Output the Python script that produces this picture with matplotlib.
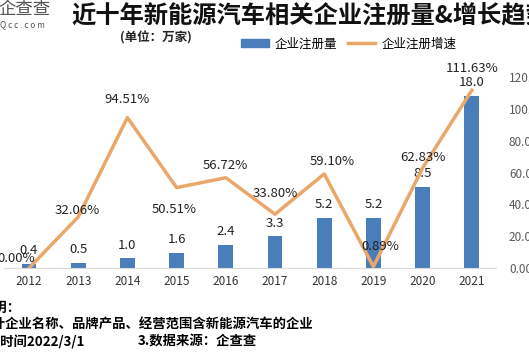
import numpy as np
import matplotlib.pyplot as plt
from matplotlib.lines import Line2D
from matplotlib.patches import Patch

plt.rcParams['font.family'] = ['Noto Sans CJK SC', 'DejaVu Sans']

# data
years = ['2012', '2013', '2014', '2015', '2016', '2017', '2018', '2019', '2020', '2021']
count = [0.4, 0.5, 1.0, 1.6, 2.4, 3.3, 5.2, 5.2, 8.5, 18.0]
growth = [0.00, 32.06, 94.51, 50.51, 56.72, 33.80, 59.10, 0.89, 62.83, 111.63]
right_ticks = [0, 20, 40, 60, 80, 100, 120]

bar_color = '#4a7ebb'
line_color = '#e9a86a'

W, H = 529, 353
fig = plt.figure(figsize=(W / 100, H / 100), dpi=100)

ax = fig.add_axes([4.4 / W, 1 - 268 / H, 492 / W, 191 / H])
x = np.arange(len(years))
ax.bar(x, count, width=0.3, color=bar_color, zorder=2)
ax.set_ylim(0, 20)
ax.set_xlim(-0.5, len(years) - 0.5)
ax.set_yticks([])
for s in ['top', 'left', 'right']:
    ax.spines[s].set_visible(False)
ax.spines['bottom'].set_color('#d9d9d9')
ax.set_xticks(x)
ax.set_xticklabels(years, fontsize=8.5, color='#333333')
ax.tick_params(axis='x', length=0, pad=5)

for i, v in enumerate(count):
    ax.annotate(f'{v:.1f}', (x[i], v), xytext=(0, 5), textcoords='offset points',
                ha='center', va='bottom', fontsize=9.5, color='#222222', zorder=5)

ax2 = ax.twinx()
ax2.plot(x, growth, color=line_color, lw=2.5, zorder=3)
ax2.set_ylim(0, 120)
ax2.set_yticks(right_ticks)
ax2.set_yticklabels([f'{t:.2f}%' for t in right_ticks], fontsize=8.5, color='#595959')
ax2.tick_params(axis='y', length=0, pad=9)
for s in ['top', 'left', 'right', 'bottom']:
    ax2.spines[s].set_visible(False)

# percentage label offsets (points)
offs = [(-9, 2), (-1, 0), (0, 8), (-2, -11), (0, 4), (0, 10), (6, 4), (5, 10), (0, 3), (0, 11)]
for i, g in enumerate(growth):
    dx, dy = offs[i]
    ax2.annotate(f'{g:.2f}%', (x[i], g), xytext=(dx, dy), textcoords='offset points',
                 ha='center', va='bottom' if dy >= 0 else 'top', fontsize=9.5,
                 color='#222222', zorder=6)

# title and header
fig.text(71 / W, 1 - 16 / H, '近十年新能源汽车相关企业注册量&增长趋势', fontsize=17.5,
         fontweight='bold', color='#111111', ha='left', va='center')
fig.text(-2 / W, 1 - 9 / H, '企查查', fontsize=12.5, color='#555555', ha='left', va='center')
fig.text(0 / W, 1 - 25 / H, 'Q c c . c o m', fontsize=6, color='#555555', ha='left', va='center')
fig.text(120 / W, 1 - 38 / H, '(单位：万家)', fontsize=9, fontweight='bold',
         color='#222222', ha='left', va='center')

handles = [Patch(color=bar_color), Line2D([], [], color=line_color, lw=2.5)]
fig.legend(handles, ['企业注册量', '企业注册增速'], loc='center left',
           bbox_to_anchor=(230 / W, 1 - 44 / H), ncol=2, frameon=False, fontsize=9,
           handlelength=2.2, handleheight=0.6, columnspacing=0.8, handletextpad=0.5)

# footnotes
fig.text(21 / W, 1 - 308 / H, '说明：', fontsize=9.6, fontweight='bold', ha='right', va='center')
fig.text(314 / W, 1 - 325 / H, '1.统计企业名称、品牌产品、经营范围含新能源汽车的企业',
         fontsize=9.6, fontweight='bold', ha='right', va='center')
fig.text(85 / W, 1 - 342 / H, '2.统计时间2022/3/1', fontsize=9.6, fontweight='bold',
         ha='right', va='center')
fig.text(138 / W, 1 - 342 / H, '3.数据来源：企查查', fontsize=9.6, fontweight='bold',
         ha='left', va='center')

fig.savefig('out.png', dpi=100)
